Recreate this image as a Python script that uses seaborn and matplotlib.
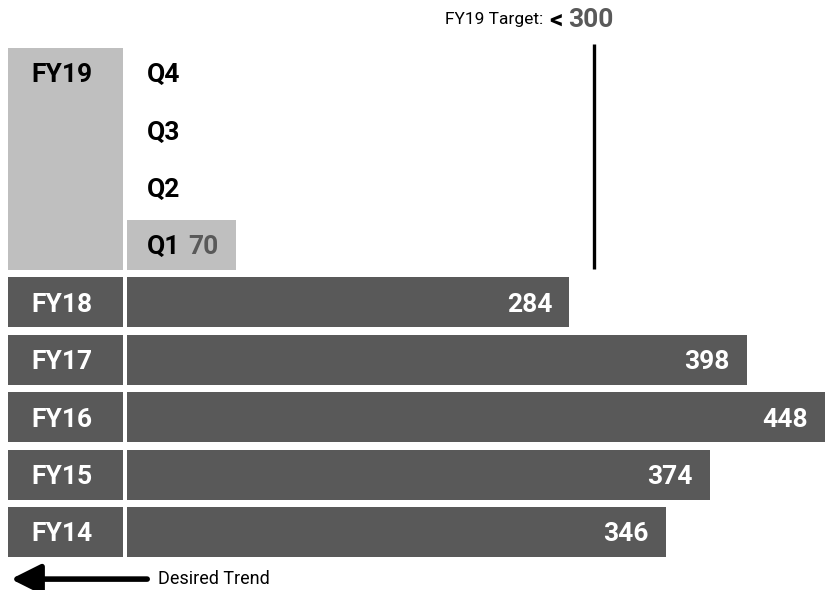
import matplotlib
matplotlib.use("Agg")
import matplotlib.pyplot as plt
import seaborn as sns
import pandas as pd

# Row order, top to bottom
rows = ["Q4", "Q3", "Q2", "Q1", "FY18", "FY17", "FY16", "FY15", "FY14"]
quarter_labels = ["Q4", "Q3", "Q2", "Q1"]
year_labels = ["FY18", "FY17", "FY16", "FY15", "FY14"]
current_year = "FY19"

# Measured values
measured = ["Q1", "FY18", "FY17", "FY16", "FY15", "FY14"]
values = [70, 284, 398, 448, 374, 346]

target = 300
target_label = "FY19 Target:"
trend_label = "Desired Trend"

DARK = "#595959"
LIGHT = "#BFBFBF"

df = pd.DataFrame({"row": measured, "value": values})
palette = {r: (LIGHT if r in quarter_labels else DARK) for r in measured}

sns.set_theme(style="white")
plt.rcParams["font.family"] = ["Roboto", "DejaVu Sans"]

fig = plt.figure(figsize=(8.28, 5.9), dpi=100)
ax = fig.add_axes([0, 0, 1, 1])

BAR_H = 0.87
sns.barplot(data=df, x="value", y="row", order=rows, hue="row",
            palette=palette, width=BAR_H, legend=False, saturation=1,
            linewidth=0, ax=ax)

ax.set_xlim(-81.5, 450)
ax.set_ylim(9.01, -1.27)
ax.axis("off")

# Label boxes on the left
box_left, box_w = -76.4, 73.8
year_pos = [rows.index(y) for y in year_labels]
ax.barh(year_pos, box_w, left=box_left, height=BAR_H, color=DARK, linewidth=0)
q_top = rows.index(quarter_labels[0]) - BAR_H / 2
q_bot = rows.index(quarter_labels[-1]) + BAR_H / 2
ax.barh((q_top + q_bot) / 2, box_w, left=box_left, height=q_bot - q_top,
        color=LIGHT, linewidth=0)

FS = 19
DY = 0.04  # nudge labels slightly below row centre
for y, lab in zip(year_pos, year_labels):
    ax.text(-42, y + DY, lab, color="white", fontsize=FS, fontweight="bold",
            ha="center", va="center")
ax.text(-42, rows.index(quarter_labels[0]) + DY, current_year, color="black",
        fontsize=FS, fontweight="bold", ha="center", va="center")

for q in quarter_labels:
    ax.text(12.8, rows.index(q) + DY, q, color="black", fontsize=FS,
            fontweight="bold", ha="left", va="center")

# Value labels at the bar ends
for r, v in zip(measured, values):
    col = DARK if r in quarter_labels else "white"
    ax.text(v - 11, rows.index(r) + DY, str(v), color=col, fontsize=FS,
            fontweight="bold", ha="right", va="center")

# Target marker
ax.vlines(target, -0.51, 3.41, color="black", linewidth=2.4)
ty = -0.93
ax.text(312, ty, str(target), color=DARK, fontsize=19, fontweight="bold",
        ha="right", va="center")
ax.text(280, ty + 0.02, "<", color="black", fontsize=19, fontweight="bold",
        ha="right", va="center")
ax.text(267, ty, target_label, color="black", fontsize=12.5,
        ha="right", va="center")

# Desired trend arrow
ay = 8.82
ax.annotate("", xy=(-74.5, ay), xytext=(13.0, ay),
            arrowprops=dict(arrowstyle="-|>,head_length=0.9,head_width=0.45",
                            lw=4, color="black", shrinkA=0, shrinkB=0,
                            mutation_scale=20))
ax.text(20, ay, trend_label, color="black", fontsize=13, ha="left",
        va="center")

fig.savefig("out.png", dpi=100)
